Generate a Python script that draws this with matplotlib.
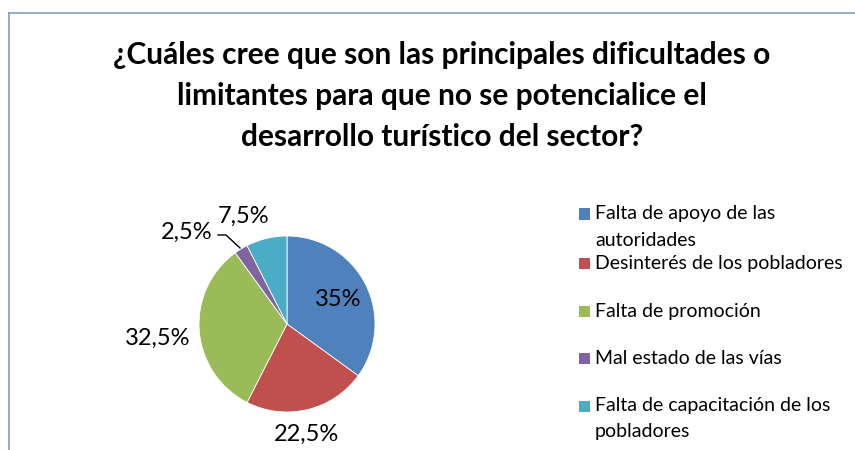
import matplotlib
matplotlib.use("Agg")
import matplotlib.pyplot as plt
from matplotlib.patches import Rectangle
from matplotlib.lines import Line2D

title_lines = ["¿Cuáles cree que son las principales dificultades o",
               "limitantes para que no se potencialice el",
               "desarrollo turístico del sector?"]
categories = ["Falta de apoyo de las\nautoridades",
              "Desinterés de los pobladores",
              "Falta de promoción",
              "Mal estado de las vías",
              "Falta de capacitación de los\npobladores"]
values = [35, 22.5, 32.5, 2.5, 7.5]
value_labels = ["35%", "22,5%", "32,5%", "2,5%", "7,5%"]
colors = ["#4F81BD", "#C0504D", "#9BBB59", "#8064A2", "#4BACC6"]

W, H = 855, 450
fig = plt.figure(figsize=(W / 100, H / 100), dpi=100)
font = "Lato"

# border
fig.add_artist(Line2D([9 / W, 9 / W], [0, 1 - 13 / H], transform=fig.transFigure, color="#7F9DC9", lw=1.2))
fig.add_artist(Line2D([9 / W, 1], [1 - 13 / H, 1 - 13 / H], transform=fig.transFigure, color="#7F9DC9", lw=1.2))

for i, line in enumerate(title_lines):
    fig.text(442 / W, 1 - (55 + 41 * i) / H, line, ha="center", va="center",
             fontsize=21.5, fontweight="bold", family=font, color="black")

cx, cy, r = 287, 324, 88
ax = fig.add_axes([(cx - r) / W, (H - cy - r) / H, 2 * r / W, 2 * r / H])
wedges, _ = ax.pie(values, colors=colors, startangle=90, counterclock=False,
                   wedgeprops=dict(edgecolor="white", linewidth=0.6))
ax.set_xlim(-1, 1)
ax.set_ylim(-1, 1)
ax.set_aspect("auto")

def px(x, y):
    return ((x - cx) / r, (cy - y) / r)

label_pos = [(338, 300), (306, 434), (158, 338), (187, 232), (244, 216)]
for lab, (x, y) in zip(value_labels, label_pos):
    xx, yy = px(x, y)
    ax.text(xx, yy, lab, ha="center", va="center", fontsize=17, family=font,
            color="black", clip_on=False)
# leader line for small slice
lx = [px(218, 235), px(226, 235), px(240, 248)]
ax.plot([p[0] for p in lx], [p[1] for p in lx], color="black", lw=1, clip_on=False)

# legend
legend_y = [214, 263, 311, 358, 406]
line_h = 26
for lab, col, y in zip(categories, colors, legend_y):
    fig.add_artist(Rectangle((579 / W, 1 - (y + 5.5) / H), 11 / W, 11 / H,
                             transform=fig.transFigure, facecolor=col, edgecolor="none"))
    for j, part in enumerate(lab.split("\n")):
        fig.text(595 / W, 1 - (y + j * line_h) / H, part, ha="left", va="center",
                 fontsize=14, family=font, color="black")

fig.savefig("out.png", dpi=100)
